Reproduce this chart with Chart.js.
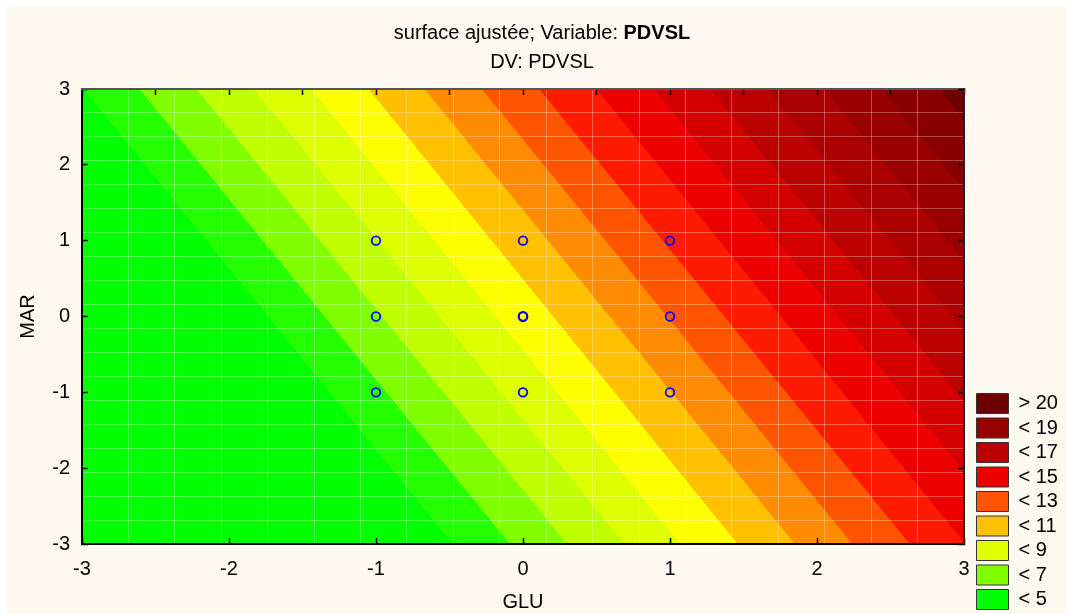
<!DOCTYPE html>
<html>
<head>
<meta charset="UTF-8">
<title>surface ajustée</title>
<style>
    body { margin: 0; background: #fff; font-family: 'Liberation Sans', Arial, sans-serif; }
    #frame { position: absolute; left: 7px; top: 7px; width: 1060px; height: 607px; background: #fdf9f0; }
    #chart { position: absolute; left: 0; top: 0; }
    .title { position: absolute; left: 0; width: 1070px; text-align: center; font-size: 20px; line-height: 24px; color: #000; }
</style>
</head>
<body>
<script src="https://cdn.jsdelivr.net/npm/chart.js"></script>
<div id="frame">
    <canvas id="chart" width="1060" height="607"></canvas>
    <div class="title" style="top: 13px">surface ajustée; Variable: <b>PDVSL</b></div>
    <div class="title" style="top: 42px">DV: PDVSL</div>
</div>
<script>
    // axis ranges
    const gluMin = -3, gluMax = 3;
    const marMin = -3, marMax = 3;
    const gluFar = 6; // right side of each band polygon, clipped by the plot

    // contour levels and where each level line meets MAR = 3 and MAR = -3
    const levels = [5, 6, 7, 8, 9, 10, 11, 12, 13, 14, 15, 16, 17, 18, 19, 20];
    const gluAtMarTop = [-2.99, -2.61, -2.22, -1.83, -1.44, -1.05, -0.67, -0.28, 0.11, 0.50, 0.89, 1.27, 1.66, 2.05, 2.44, 2.83];
    const gluAtMarBottom = [-0.48, -0.09, 0.30, 0.69, 1.07, 1.46, 1.85, 2.24, 2.63, 3.01, 3.40, 3.79, 4.18, 4.57, 4.95, 5.34];
    const baseColor = '#00FF00';
    const bandColors = ['#26FF00', '#80FF00', '#C0FF00', '#DEFF00', '#FFFF00', '#FFC000', '#FF8C00', '#FF5500',
        '#FF1A00', '#EE0000', '#D40000', '#BB0000', '#AA0000', '#990000', '#880000', '#6E0000'];

    // design points
    const pointsGLU = [-1, 0, 1, -1, 0, 1, -1, 0, 1, 0, 0];
    const pointsMAR = [1, 1, 1, 0, 0, 0, -1, -1, -1, 0, 0];

    // legend
    const legendText = ['> 20', '< 19', '< 17', '< 15', '< 13', '< 11', '< 9', '< 7', '< 5'];
    const legendColors = ['#6B0000', '#990000', '#BB0000', '#EE0000', '#FF5500', '#FFC000', '#E0FF00', '#80FF00', '#00FF00'];

    Chart.defaults.font.family = "'Liberation Sans', Arial, sans-serif";
    Chart.defaults.font.size = 20;
    Chart.defaults.color = '#000';

    let datasets = [];
    datasets.push({
        type: 'scatter',
        label: 'points',
        data: pointsGLU.map((g, i) => ({x: g, y: pointsMAR[i]})),
        pointRadius: 4.3,
        borderWidth: 1.8,
        borderColor: '#0000FF',
        backgroundColor: 'rgba(0,0,0,0)',
        order: 0
    });
    datasets.push({
        type: 'line',
        label: 'base',
        data: [{x: gluMin, y: marMax}, {x: gluMax, y: marMax}, {x: gluMax, y: marMin}, {x: gluMin, y: marMin}],
        backgroundColor: baseColor,
        borderColor: 'rgba(0,0,0,0)',
        borderWidth: 0,
        pointRadius: 0,
        fill: 'shape',
        order: 99
    });
    levels.forEach(function(lv, i) {
        datasets.push({
            type: 'line',
            label: '>= ' + lv,
            data: [{x: gluAtMarTop[i], y: marMax}, {x: gluFar, y: marMax}, {x: gluFar, y: marMin}, {x: gluAtMarBottom[i], y: marMin}],
            backgroundColor: bandColors[i],
            borderColor: 'rgba(0,0,0,0)',
            borderWidth: 0,
            pointRadius: 0,
            fill: 'shape',
            order: 90 - i
        });
    });

    let tickGrid = {drawOnChartArea: false, drawTicks: true, tickLength: -6, color: '#000', tickWidth: 1.5, z: 2};
    let meshGrid = {color: 'rgba(255,255,255,0.3)', drawTicks: false, z: 1};

    let context = document.getElementById('chart').getContext('2d');
    let chart = new Chart(context, {
        type: 'scatter',
        data: {datasets: datasets},
        options: {
            responsive: false,
            animation: false,
            events: [],
            layout: {padding: {top: 82, bottom: 0, left: 0, right: 0}},
            plugins: {
                title: {display: false},
                tooltip: {enabled: false},
                legend: {
                    position: 'right',
                    align: 'end',
                    maxWidth: 95,
                    onClick: null,
                    labels: {
                        boxWidth: 32,
                        boxHeight: 20,
                        padding: 4.5,
                        color: '#000',
                        font: {size: 20},
                        generateLabels: function() {
                            return legendText.map((t, i) => ({
                                text: t, fillStyle: legendColors[i], strokeStyle: '#333', lineWidth: 1, hidden: false
                            }));
                        }
                    }
                }
            },
            scales: {
                x: {
                    type: 'linear', position: 'bottom', min: gluMin, max: gluMax,
                    ticks: {stepSize: 1, padding: 19, maxRotation: 0},
                    grid: tickGrid,
                    border: {display: true, color: '#000', width: 2, z: 2},
                    title: {display: true, text: 'GLU', padding: {top: 0, bottom: 0}},
                    afterFit: function(s) { s.height = 70; }
                },
                y: {
                    type: 'linear', position: 'left', min: marMin, max: marMax,
                    ticks: {stepSize: 1, padding: 18},
                    grid: tickGrid,
                    border: {display: true, color: '#000', width: 2, z: 2},
                    title: {display: true, text: 'MAR', padding: {top: 9, bottom: 0}},
                    afterFit: function(s) { s.width = 75; }
                },
                xTop: {
                    type: 'linear', position: 'top', min: gluMin, max: gluMax,
                    ticks: {stepSize: 0.5, display: false},
                    grid: tickGrid,
                    border: {display: true, color: '#555', width: 2, z: 2},
                    afterFit: function(s) { s.height = 0; }
                },
                yRight: {
                    type: 'linear', position: 'right', min: marMin, max: marMax,
                    ticks: {stepSize: 1, display: false},
                    grid: tickGrid,
                    border: {display: true, color: '#222', width: 2, z: 2},
                    afterFit: function(s) { s.width = 8; }
                },
                meshX: {
                    type: 'linear', position: 'bottom', min: gluMin, max: gluMax,
                    ticks: {count: 20, display: false},
                    grid: meshGrid,
                    border: {display: false},
                    afterFit: function(s) { s.height = 0; }
                },
                meshY: {
                    type: 'linear', position: 'left', min: marMin, max: marMax,
                    ticks: {count: 20, display: false},
                    grid: meshGrid,
                    border: {display: false},
                    afterFit: function(s) { s.width = 0; }
                }
            }
        }
    });
</script>
</body>
</html>
